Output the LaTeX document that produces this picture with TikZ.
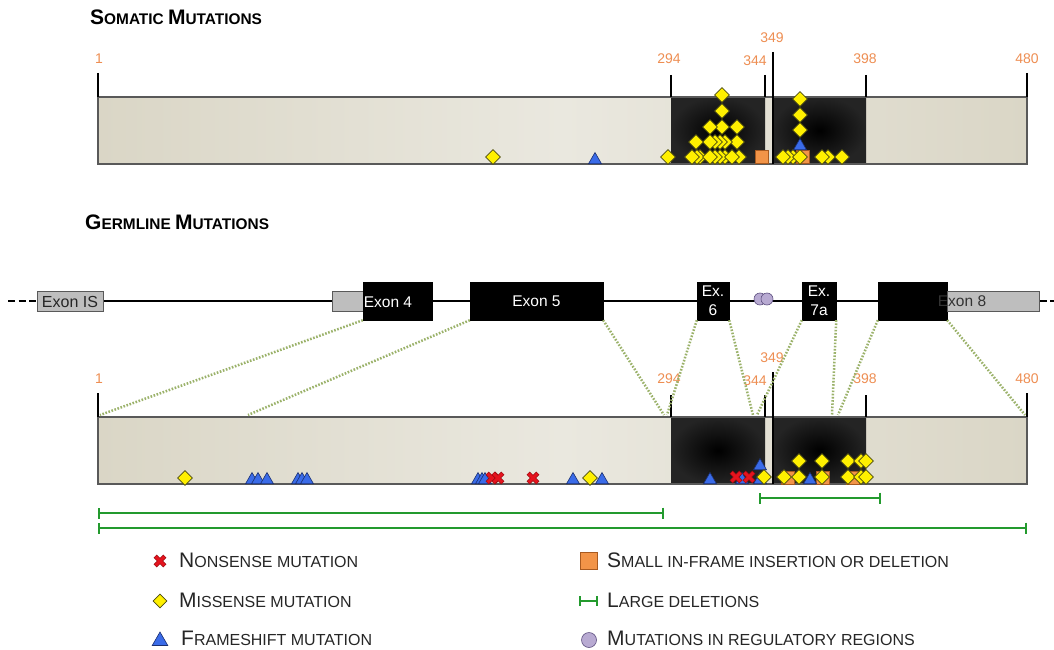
\documentclass[tikz,border=0pt]{standalone}
\usepackage{fontspec}
\setmainfont{Liberation Sans}
\usetikzlibrary{shapes.geometric,arrows.meta}
\definecolor{cLab}{HTML}{EE8E52}
\definecolor{cBarA}{HTML}{DAD6C6}
\definecolor{cBarB}{HTML}{EAE8DF}
\definecolor{cYel}{HTML}{FFF000}
\definecolor{cYelD}{HTML}{4A4A10}
\definecolor{cBlue}{HTML}{3A6BE8}
\definecolor{cBlueD}{HTML}{1A2F70}
\definecolor{cRed}{HTML}{E5141E}
\definecolor{cRedD}{HTML}{9A0A10}
\definecolor{cOr}{HTML}{F29448}
\definecolor{cOrD}{HTML}{A85A20}
\definecolor{cPu}{HTML}{B8AAD2}
\definecolor{cPuD}{HTML}{5E5080}
\definecolor{cGrn}{HTML}{239A2E}
\definecolor{cDot}{HTML}{9BB26A}
\definecolor{cGray}{HTML}{BEBEBE}
\newcommand{\mylsc}[2]{{\fontsize{21}{21}\selectfont #1}{\fontsize{16}{16}\selectfont #2}}
\newcommand{\mytsc}[2]{{\fontsize{21}{21}\selectfont\bfseries #1}{\fontsize{15.4}{15.4}\selectfont\bfseries #2}}
\pgfdeclarelayer{bg}
\pgfsetlayers{bg,main}
\newcommand{\protbar}[1]{%
  \shade[left color=cBarA,right color=cBarA,middle color=cBarB] (98,97) rectangle (1027,164);
  \shade[inner color=black,outer color=black!86!white] (671,97) rectangle (765,164);
  \shade[inner color=black,outer color=black!86!white] (773,97) rectangle (866,164);
  \draw[barline] (98,97) rectangle (1027,164);
  \draw[tick] (98,73) -- (98,97);
  \draw[tick] (671,75) -- (671,97);
  \draw[tick] (765,75) -- (765,97);
  \draw[tick,line width=2pt] (773,52) -- (773,164);
  \draw[tick] (866,75) -- (866,97);
  \draw[tick] (1027,73) -- (1027,97);
  \node[num] (#1n1) at (99,59) {1};
  \node[num] (#1n294) at (669,59) {294};
  \node[num] (#1n344) at (755,61) {344};
  \node[num] (#1n349) at (772,38) {349};
  \node[num] (#1n398) at (865,59) {398};
  \node[num] (#1n480) at (1027,59) {480};
}
\begin{document}
\begin{tikzpicture}[x=1pt,y=-1pt,
  barline/.style={draw=black!65,line width=1.2pt},
  tick/.style={line width=2.5pt,black},
  num/.style={inner sep=0,text=cLab,font=\fontsize{14}{14}\selectfont},
  mdia/.style={diamond,draw=cYelD,fill=cYel,line width=0.8pt,inner sep=0,minimum width=15pt,minimum height=15pt},
  mtri/.style={regular polygon,regular polygon sides=3,draw=cBlueD,fill=cBlue,line width=0.6pt,inner sep=0,minimum size=15pt},
  msq/.style={rectangle,draw=cOrD,fill=cOr,line width=0.6pt,inner sep=0,minimum size=13pt},
  mcirc/.style={circle,draw=cPuD,fill=cPu,line width=0.6pt,inner sep=0,minimum size=12pt},
  xmk/.pic={\draw[cRedD,line width=4.4pt] (-4.8,-4.8)--(4.8,4.8) (-4.8,4.8)--(4.8,-4.8);
            \draw[cRed,line width=3pt] (-4.4,-4.4)--(4.4,4.4) (-4.4,4.4)--(4.4,-4.4);},
  blk/.style={fill=black,draw=black,inner sep=0,text=white,font=\fontsize{15.5}{19}\selectfont},
  gbox/.style={fill=cGray,draw=black!65,line width=1pt,inner sep=0},
  dotl/.style={cDot,line width=2.5pt,dash pattern=on 1.6pt off 1.6pt},
  gdel/.style={cGrn,line width=2.2pt,arrows={Bar[width=11pt,line width=2.2pt]-Bar[width=11pt,line width=2.2pt]}},
  ttl/.style={anchor=base west,inner sep=0},
  leg/.style={anchor=base west,inner sep=0,text=black!85}
]
\useasboundingbox (0,0) rectangle (1054,650);
\begin{pgfonlayer}{bg}
\fill[white] (0,0) rectangle (1054,650);
\end{pgfonlayer}

% ---------- titles ----------
\node[ttl] (tsom) at (90,25) {\mytsc{S}{OMATIC }\mytsc{M}{UTATIONS}};
\node[ttl] (tger) at (85,229) {\mytsc{G}{ERMLINE }\mytsc{M}{UTATIONS}};

% ---------- somatic bar ----------
\protbar{s}
\node[msq] (ssq1) at (762,157) {};
\node[msq] (ssq2) at (803,157) {};
\foreach \x/\y [count=\i] in {722/95,722/111,737/127,722/127,710/127,737/142,725/142,720/142,715/142,710/142,696/142,
  668/157,700/157,697/157,692/157,725/157,720/157,715/157,710/157,739/157,732/157,
  800/99,800/115,800/130,793/157,788/157,783/157,800/157,828/157,822/157,842/157,493/157}
  \node[mdia] (sd\i) at (\x,\y) {};
\node[mtri] (st1) at (800,146) {};
\node[mtri] (st2) at (595,160) {};

% ---------- gene structure ----------
\coordinate (gL) at (8,301);
\coordinate (gR) at (1054,301);
\node[gbox,minimum width=66pt,minimum height=20pt] (isx) at (70,301) {};
\node[inner sep=0,text=black!85,font=\fontsize{16}{16}\selectfont] (isxt) at (70,302) {Exon IS};
\node[gbox,minimum width=31pt,minimum height=20pt] (e4g) at (347.5,301) {};
\node[blk,minimum width=69pt,minimum height=38pt] (e4) at (397.5,301) {};
\node[inner sep=0,text=white,font=\fontsize{15.5}{15.5}\selectfont] (e4t) at (388,302) {Exon 4};
\node[blk,minimum width=133pt,minimum height=38pt] (e5) at (536.5,301) {Exon 5};
\node[blk,minimum width=32pt,minimum height=38pt,align=center] (e6) at (713,301) {Ex.\\6};
\node[blk,minimum width=34pt,minimum height=38pt,align=center] (e7) at (819,301) {Ex.\\7a};
\node[blk,minimum width=69pt,minimum height=38pt] (e8) at (912.5,301) {};
\node[gbox,minimum width=92pt,minimum height=20pt] (e8g) at (993,301) {};
\node[inner sep=0,text=black!80,font=\fontsize{15.5}{15.5}\selectfont] (e8t) at (962,301) {Exon 8};
\node[mcirc] (rg1) at (760,299) {};
\node[mcirc] (rg2) at (767,299) {};
\begin{pgfonlayer}{bg}
  \draw[line width=2pt] (isx.east) -- (e8g.west);
  \draw[line width=2.5pt,dash pattern=on 7pt off 3.5pt] (gL) -- (isx.west);
  \draw[line width=2.5pt,dash pattern=on 7pt off 3.5pt] (e8g.east) -- (gR);
\end{pgfonlayer}

% ---------- germline bar ----------
\begin{scope}[yshift=-320pt]
\protbar{g}
\end{scope}
\coordinate (b1) at (100,415);
\coordinate (b2) at (248,415);
\coordinate (b3) at (664,415);
\coordinate (b4) at (667,415);
\coordinate (b5) at (753,415);
\coordinate (b6) at (757,415);
\coordinate (b7) at (832,415);
\coordinate (b8) at (838,415);
\coordinate (b9) at (1025,415);
\draw[dotl] (e4.south west) -- (b1);
\draw[dotl] (e5.south west) -- (b2);
\draw[dotl] (e5.south east) -- (b3);
\draw[dotl] (e6.south west) -- (b4);
\draw[dotl] (e6.south east) -- (b5);
\draw[dotl] (e7.south west) -- (b6);
\draw[dotl] (e7.south east) -- (b7);
\draw[dotl] (e8.south west) -- (b8);
\draw[dotl] (e8.south east) -- (b9);

\foreach \x/\y [count=\i] in {788/478,823/478,853/478}
  \node[msq] (gsq\i) at (\x,\y) {};
\foreach \x/\y [count=\i] in {252/480,258/480,267/480,298/480,302/480,307/480,478/480,482/480,485/480,573/480,
  710/480,742/480,760/480,760/466}
  \node[mtri] (gt\i) at (\x,\y) {};
\foreach \x/\y [count=\i] in {492/478,498/478,533/478,736/477,749/477}
  \pic at (\x,\y) {xmk};
\foreach \x/\y [count=\i] in {185/478,590/478,764/477,784/477,799/477,822/477,848/477,861/477,866/477,
  799/461,822/461,848/461,861/461,866/461}
  \node[mdia] (gd\i) at (\x,\y) {};
\node[mtri] (gt15) at (602,480) {};
\node[mtri] (gt16) at (810,480) {};

% ---------- large deletions ----------
\coordinate (d1a) at (759,498); \coordinate (d1b) at (881,498);
\coordinate (d2a) at (98,513);  \coordinate (d2b) at (664,513);
\coordinate (d3a) at (98,528);  \coordinate (d3b) at (1027,528);
\draw[gdel] (d1a) -- (d1b);
\draw[gdel] (d2a) -- (d2b);
\draw[gdel] (d3a) -- (d3b);

% ---------- legend ----------
\pic at (160,561) {xmk};
\node[mdia,minimum width=14pt,minimum height=14pt] (ld) at (160,601) {};
\node[mtri,minimum size=18pt] (lt) at (160,641) {};
\node[leg] (l1) at (179,567) {\mylsc{N}{ONSENSE MUTATION}};
\node[leg] (l2) at (179,607) {\mylsc{M}{ISSENSE MUTATION}};
\node[leg] (l3) at (181,645) {\mylsc{F}{RAMESHIFT MUTATION}};
\node[msq,minimum size=17pt] (lsq) at (589,561) {};
\coordinate (lga) at (579,601); \coordinate (lgb) at (598,601);
\draw[cGrn,line width=2.2pt,arrows={Bar[width=10pt,line width=2.2pt]-Bar[width=10pt,line width=2.2pt]}] (lga) -- (lgb);
\node[mcirc,minimum size=15pt] (lc) at (589,640) {};
\node[leg] (l4) at (607,567) {\mylsc{S}{MALL IN-FRAME INSERTION OR DELETION}};
\node[leg] (l5) at (607,607) {\mylsc{L}{ARGE DELETIONS}};
\node[leg] (l6) at (607,645) {\mylsc{M}{UTATIONS IN REGULATORY REGIONS}};
\end{tikzpicture}
\end{document}
